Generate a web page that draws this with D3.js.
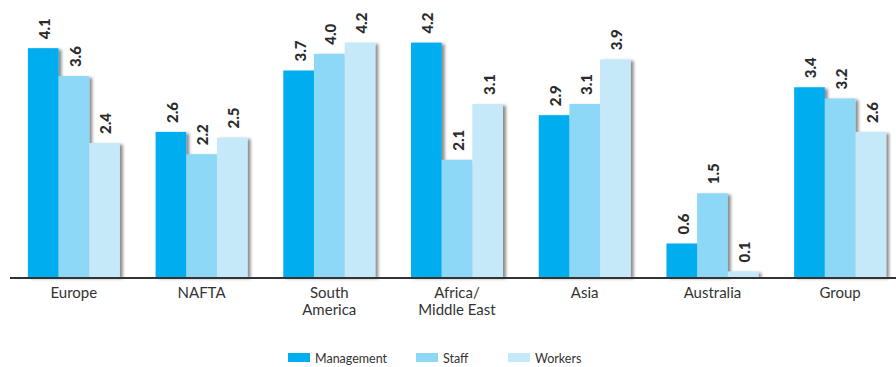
<!DOCTYPE html>
<html>
<head>
<meta charset="utf-8">
<script src="https://cdn.jsdelivr.net/npm/d3@7"></script>
<style>
  html, body { margin: 0; padding: 0; background: #fff; }
  svg { display: block; font-family: Lato, "Open Sans", sans-serif; }
</style>
</head>
<body>
<svg id="chart" width="896" height="367"></svg>
<script>
// Regions (category labels, split into lines)
const regions = ["Europe", "NAFTA", "South America", "Africa/ Middle East", "Asia", "Australia", "Group"];
const regionLines = [["Europe"], ["NAFTA"], ["South", "America"], ["Africa/", "Middle East"], ["Asia"], ["Australia"], ["Group"]];

// Series
const seriesNames = ["Management", "Staff", "Workers"];
const management = [4.1, 2.6, 3.7, 4.2, 2.9, 0.6, 3.4];
const staff      = [3.6, 2.2, 4.0, 2.1, 3.1, 1.5, 3.2];
const workers    = [2.4, 2.5, 4.2, 3.1, 3.9, 0.1, 2.6];
const seriesColors = ["#00aeef", "#8dd7f7", "#c6e9f9"];

const seriesValues = [management, staff, workers];
const rows = regions.map((r, i) => ({
  region: r,
  values: seriesNames.map((s, k) => ({ series: s, value: seriesValues[k][i] }))
}));

const svg = d3.select("#chart");

const x0 = d3.scaleBand().domain(regions).range([10, 904])
  .paddingInner(0.28).paddingOuter(0.14);
const x1 = d3.scaleBand().domain(seriesNames).range([0, x0.bandwidth()]).padding(0);
const y = d3.scaleLinear().domain([0, 4.2]).range([277, 42.6]);
const color = d3.scaleOrdinal().domain(seriesNames).range(seriesColors);

// Soft shadow to the right of each bar
const defs = svg.append("defs");
const f = defs.append("filter").attr("id", "barShadow")
  .attr("x", "-10%").attr("y", "-10%").attr("width", "140%").attr("height", "120%");
f.append("feDropShadow").attr("dx", 3).attr("dy", 1.5)
  .attr("stdDeviation", 1.6).attr("flood-color", "#000").attr("flood-opacity", 0.45);

const groups = svg.append("g").selectAll("g")
  .data(rows).join("g")
  .attr("transform", d => `translate(${x0(d.region)},0)`);

groups.selectAll("rect")
  .data(d => d.values).join("rect")
  .attr("x", d => x1(d.series))
  .attr("y", d => y(d.value))
  .attr("width", x1.bandwidth())
  .attr("height", d => y(0) - y(d.value))
  .attr("fill", d => color(d.series))
  .attr("filter", "url(#barShadow)");

// Value labels, rotated, above each bar
groups.selectAll("text.val")
  .data(d => d.values).join("text")
  .attr("class", "val")
  .attr("transform", d => `translate(${x1(d.series) + x1.bandwidth() / 2 + 1.5},${y(d.value) - 9}) rotate(-90)`)
  .attr("dy", "0.36em")
  .attr("text-anchor", "start")
  .attr("font-size", 15)
  .attr("font-weight", 900)
  .attr("fill", "#2b2b2b")
  .text(d => d3.format(".1f")(d.value));

// Baseline
svg.append("line")
  .attr("x1", 10).attr("x2", 896)
  .attr("y1", y(0) + 1).attr("y2", y(0) + 1)
  .attr("stroke", "#333").attr("stroke-width", 2);

// Category labels
const catLabels = svg.append("g").selectAll("text")
  .data(regions).join("text")
  .attr("x", d => x0(d) + x0.bandwidth() / 2)
  .attr("y", 298)
  .attr("text-anchor", "middle")
  .attr("font-size", 15)
  .attr("fill", "#333");
catLabels.selectAll("tspan")
  .data((d, i) => regionLines[i]).join("tspan")
  .attr("x", function () { return d3.select(this.parentNode).attr("x"); })
  .attr("dy", (d, i) => i === 0 ? 0 : 16.5)
  .text(d => d);

// Legend
const legendX = [288, 416, 508];
const legend = svg.append("g").selectAll("g")
  .data(seriesNames).join("g")
  .attr("transform", (d, i) => `translate(${legendX[i]},353)`);
legend.append("rect")
  .attr("width", 22).attr("height", 9)
  .attr("fill", d => color(d));
legend.append("text")
  .attr("x", 27).attr("y", 9.5)
  .attr("font-size", 12.5)
  .attr("fill", "#333")
  .text(d => d);
</script>
</body>
</html>
